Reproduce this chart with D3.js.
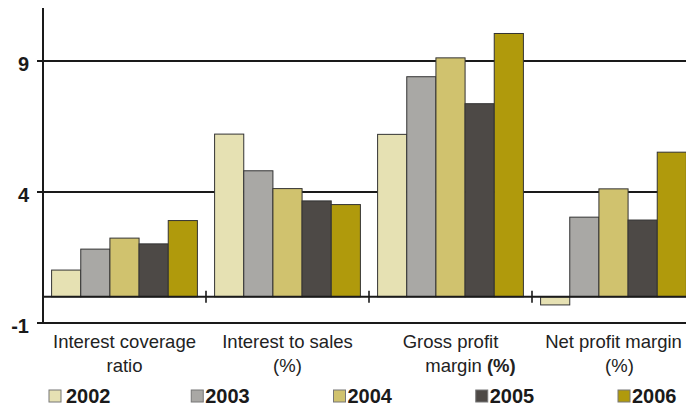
<!DOCTYPE html>
<html><head><meta charset="utf-8">
<script src="https://cdn.jsdelivr.net/npm/d3@7"></script>
<style>
html,body{margin:0;padding:0;background:#fff;}
svg{display:block;font-family:"Liberation Sans",Arial,Helvetica,sans-serif;}
</style></head>
<body><svg id="c" width="686" height="405"></svg>
<script>
const categories = ["Interest coverage ratio", "Interest to sales (%)", "Gross profit margin (%)", "Net profit margin (%)"];
const years = ["2002", "2003", "2004", "2005", "2006"];
const values2002 = [1.02, 6.21, 6.2, -0.31];
const values2003 = [1.82, 4.81, 8.4, 3.04];
const values2004 = [2.24, 4.13, 9.12, 4.12];
const values2005 = [2.02, 3.66, 7.37, 2.93];
const values2006 = [2.91, 3.52, 10.05, 5.52];
const yTicks = [9, 4, -1];
const colors = ["#E6E1B3", "#A9A8A5", "#D0C26E", "#4D4946", "#B09A0C"];

const series = [values2002, values2003, values2004, values2005, values2006];
const svg = d3.select("#c");

const x0 = d3.scaleBand().domain(categories).range([43, 695]).padding(0);
const x1 = d3.scaleBand().domain(years).range([8.6, x0.bandwidth() - 8.6]).padding(0);
const y = d3.scaleLinear().domain([-1, 11]).range([323, 8.6]);

// gridlines at 9 and 4, and -1 baseline
svg.append("g").selectAll("line").data(yTicks).join("line")
  .attr("x1", 37).attr("x2", 686)
  .attr("y1", d => y(d)).attr("y2", d => y(d))
  .attr("stroke", "#1a1a1a").attr("stroke-width", 2);

// y tick labels
svg.append("g").selectAll("text").data(yTicks).join("text")
  .attr("x", 29).attr("y", d => y(d) + 10)
  .attr("text-anchor", "end")
  .attr("font-size", 20).attr("font-weight", "bold").attr("fill", "#1a1a1a")
  .text(d => d);

// bars
const g = svg.append("g");
categories.forEach((cat, ci) => {
  years.forEach((yr, si) => {
    const v = series[si][ci];
    g.append("rect")
      .attr("x", x0(cat) + x1(yr))
      .attr("width", x1.bandwidth())
      .attr("y", y(Math.max(0, v)))
      .attr("height", Math.abs(y(v) - y(0)))
      .attr("fill", colors[si])
      .attr("stroke", "#333")
      .attr("stroke-width", 1);
  });
});

// zero line
svg.append("line").attr("x1", 43).attr("x2", 686)
  .attr("y1", y(0)).attr("y2", y(0))
  .attr("stroke", "#1a1a1a").attr("stroke-width", 2);

// category ticks
svg.append("g").selectAll("line").data(categories.slice(1)).join("line")
  .attr("x1", d => x0(d)).attr("x2", d => x0(d))
  .attr("y1", y(0) - 6).attr("y2", y(0) + 6)
  .attr("stroke", "#1a1a1a").attr("stroke-width", 1.6);

// y axis
svg.append("line").attr("x1", 43).attr("x2", 43)
  .attr("y1", 8).attr("y2", y(-1))
  .attr("stroke", "#1a1a1a").attr("stroke-width", 2);

// category labels
const labelLines = [
  [["Interest coverage"], ["ratio"]],
  [["Interest to sales"], ["(%)"]],
  [["Gross profit"], ["margin ", "(%)"]],
  [["Net profit margin"], ["(%)"]]
];
const lab = svg.append("g").attr("font-size", 18.5).attr("fill", "#222");
categories.forEach((cat, ci) => {
  const cx = x0(cat) + x0.bandwidth() / 2;
  labelLines[ci].forEach((parts, li) => {
    const t = lab.append("text")
      .attr("x", cx + (ci === 2 && li === 1 ? 20 : (ci === 3 && li === 1 ? 6 : 0)))
      .attr("y", 348 + li * 24)
      .attr("text-anchor", "middle");
    parts.forEach((p, pi) => {
      t.append("tspan").attr("font-weight", (ci === 2 && pi === 1) ? "bold" : "normal").text(p);
    });
  });
});

// legend
const legX = d3.scaleLinear().domain([0, 4]).range([49, 618]);
const leg = svg.append("g");
years.forEach((yr, i) => {
  leg.append("rect").attr("x", legX(i)).attr("y", 390).attr("width", 12).attr("height", 12)
    .attr("fill", colors[i]).attr("stroke", "#777").attr("stroke-width", 1);
  leg.append("text").attr("x", legX(i) + (i === 0 ? 17 : 14)).attr("y", 402.5)
    .attr("font-size", 20).attr("font-weight", "bold").attr("fill", "#1a1a1a")
    .text(yr);
});
</script></body></html>
